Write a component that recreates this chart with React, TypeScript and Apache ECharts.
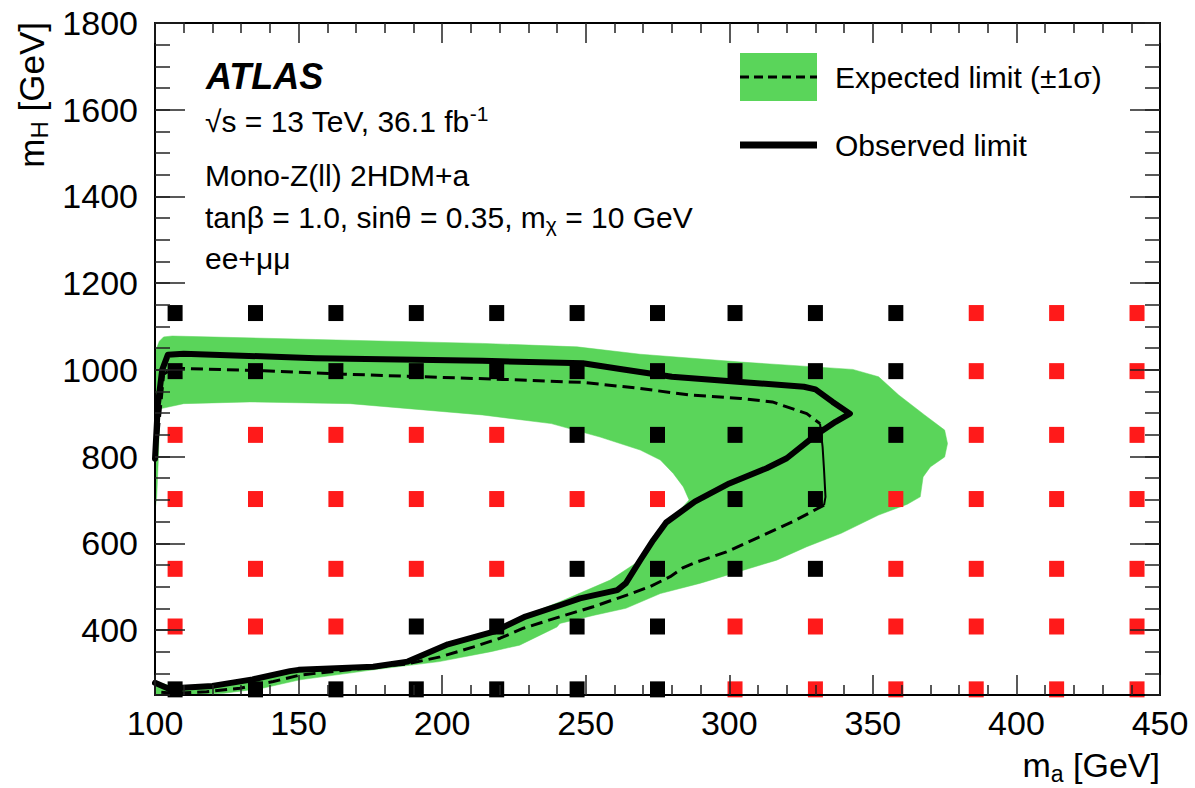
import React, { useEffect, useRef } from "react";
import * as echarts from "echarts";

const FONT = '"Liberation Sans", Arial, Helvetica, sans-serif';
const GREEN = "#5ad55a";
const RED = "#ff1a1a";

// Grid of signal points
const MA_POINTS = [107, 135, 163, 191, 219, 247, 275, 302, 330, 358, 386, 414, 442];
const MH_POINTS = [263, 408, 541, 702, 850, 997, 1131];
// 1 = excluded (black), 0 = not excluded (red); one row per MH_POINTS entry
const EXCLUDED_ROWS = [
  [1, 1, 1, 1, 1, 1, 1, 0, 0, 0, 0, 0, 0],
  [0, 0, 0, 1, 1, 1, 1, 0, 0, 0, 0, 0, 0],
  [0, 0, 0, 0, 0, 1, 1, 1, 1, 0, 0, 0, 0],
  [0, 0, 0, 0, 0, 0, 0, 1, 1, 0, 0, 0, 0],
  [0, 0, 0, 0, 0, 1, 1, 1, 1, 1, 0, 0, 0],
  [1, 1, 1, 1, 1, 1, 1, 1, 1, 1, 0, 0, 0],
  [1, 1, 1, 1, 1, 1, 1, 1, 1, 1, 0, 0, 0],
];

// Observed limit contour
const OBS_X = [100, 101, 102.5, 104.5, 110, 156, 214, 249, 262, 280, 304, 326, 330, 336, 342, 337, 330, 320, 313, 300, 288, 278, 273.5, 269, 264, 261, 248, 241, 229, 218, 202, 188, 176, 150, 147, 134, 120, 108, 105, 100];
const OBS_Y = [795, 920, 1000, 1035, 1037, 1027, 1021, 1015, 1002, 984, 972, 961, 955, 926, 899, 880, 849, 796, 773, 738, 696, 648, 607, 561, 508, 492, 473, 457, 431, 396, 367, 327, 315, 308, 305, 286, 271, 266, 264, 278];

// Expected limit contour (upper dashed part, near-vertical solid part, lower dashed part)
const EXP_UP_X = [101, 103, 106, 110, 138, 166, 193, 221, 249, 269, 286, 304, 315, 327, 331.6];
const EXP_UP_Y = [850, 990, 1003, 1003, 998, 990, 984, 978, 971, 957, 942, 934, 926, 899, 876];
const EXP_MID_X = [331.6, 332.5, 333, 333.5, 333];
const EXP_MID_Y = [876, 822, 769, 707, 688];
const EXP_LOW_X = [333, 322.5, 310, 299, 287.5, 284, 279.4, 272.4, 264.3, 252.6, 241, 228.3, 220.2, 211, 199.3, 187.7, 164.4, 150.5, 141.2, 129.6, 118, 106.4, 100.5];
const EXP_LOW_Y = [688, 651, 613, 580, 554, 544, 523, 500, 480.5, 453.5, 430.5, 404, 381, 361, 338, 321.5, 306, 296, 281, 265.5, 257.6, 254, 257.6];

// +-1 sigma band outline
const BAND_X = [100, 100, 101.5, 103, 106, 156, 214, 247, 269, 304, 343, 352, 359, 368, 375, 376, 375, 370, 367.5, 366.5, 362, 352, 339, 327, 316.5, 313, 301.5, 290, 276, 264, 253, 241, 240, 227, 217, 199, 176, 150.5, 137, 124, 110, 100, 100, 106, 120, 134, 148, 176, 188, 202, 218, 229, 241, 258.5, 269, 274, 279, 286, 284, 280.5, 276, 269, 255, 238, 214, 168, 133, 110, 101.7, 101.2, 100.6];
const BAND_Y = [676, 1040, 1066, 1076, 1078, 1070, 1061, 1053, 1036, 1018, 1001, 984, 942, 896, 861, 830, 799, 776, 753, 707, 690, 665, 623, 592, 561, 554, 531, 508, 484, 450, 434, 415, 407, 365, 350, 327, 308, 285, 265, 254, 250, 250, 282, 270, 273, 289, 310, 318, 330, 370, 399, 434, 465, 515, 561, 607, 648, 700, 730, 761, 792, 815, 845, 876, 896, 922, 926, 922, 910, 800, 707];

const Y_MAJOR_TICKS = [400, 600, 800, 1000, 1200, 1400, 1600, 1800];

const pairs = (xs: number[], ys: number[]) => xs.map((x, i) => [x, ys[i]]);

function buildOption() {
  const black: number[][] = [];
  const red: number[][] = [];
  MH_POINTS.forEach((mh, r) => {
    MA_POINTS.forEach((ma, c) => {
      (EXCLUDED_ROWS[r][c] ? black : red).push([ma, mh]);
    });
  });

  const tickStyle = { color: "#222", width: 1.5 };
  const axisLineStyle = { color: "#000", width: 2 };
  const labelStyle = {
    color: "#000",
    fontSize: 34,
    fontFamily: FONT,
    formatter: (v: number) => String(v),
  };

  const xBase = {
    type: "value",
    min: 100,
    max: 450,
    interval: 50,
    z: 10,
    silent: true,
    splitLine: { show: false },
    axisLine: { show: true, onZero: false, lineStyle: axisLineStyle },
    axisTick: { show: true, inside: true, length: 20, lineStyle: tickStyle },
    minorTick: { show: true, splitNumber: 5, length: 10, lineStyle: tickStyle },
  };
  const yMajor = {
    type: "value",
    min: 250,
    max: 1800,
    interval: 50,
    z: 10,
    silent: true,
    splitLine: { show: false },
    axisLine: { show: true, onZero: false, lineStyle: axisLineStyle },
    axisTick: { show: true, inside: true, length: 30, lineStyle: tickStyle, customValues: Y_MAJOR_TICKS },
  };
  const yMinor = {
    type: "value",
    min: 250,
    max: 1800,
    interval: 50,
    z: 10,
    silent: true,
    splitLine: { show: false },
    axisLine: { show: false },
    axisTick: { show: true, inside: true, length: 15, lineStyle: tickStyle },
    axisLabel: { show: false },
  };

  const textBase = {
    fill: "#000",
    fontFamily: FONT,
    fontSize: 30,
    lineHeight: 36,
    textAlign: "left",
    align: "left",
    textVerticalAlign: "middle",
    verticalAlign: "middle",
  };
  const sub = { fontSize: 21, lineHeight: 14, verticalAlign: "bottom", fontFamily: FONT, fill: "#000" };
  const sup = { fontSize: 21, lineHeight: 14, verticalAlign: "top", fontFamily: FONT, fill: "#000" };

  return {
    animation: false,
    backgroundColor: "#fff",
    grid: { left: 155, right: 35, top: 23, bottom: 93, containLabel: false, outerBoundsMode: "none" },
    xAxis: [
      { ...xBase, position: "bottom", axisLabel: { show: true, margin: 11, ...labelStyle } },
      { ...xBase, position: "top", axisLabel: { show: false } },
    ],
    yAxis: [
      { ...yMajor, position: "left", axisLabel: { show: true, margin: 17, customValues: Y_MAJOR_TICKS, ...labelStyle } },
      { ...yMinor, position: "left" },
      { ...yMajor, position: "right", axisLabel: { show: false } },
      { ...yMinor, position: "right" },
    ],
    series: [
      {
        type: "custom",
        name: "band",
        coordinateSystem: "cartesian2d",
        xAxisIndex: 0,
        yAxisIndex: 0,
        z: 1,
        silent: true,
        clip: true,
        data: pairs(BAND_X, BAND_Y),
        encode: { x: 0, y: 1 },
        renderItem: (params: any, api: any) => {
          if (params.dataIndex !== 0) return null;
          const pts = BAND_X.map((x, i) => api.coord([x, BAND_Y[i]]));
          return { type: "polygon", shape: { points: pts }, style: { fill: GREEN, stroke: GREEN, lineWidth: 0.5 } };
        },
      },
      {
        type: "line",
        name: "expUp",
        data: pairs(EXP_UP_X, EXP_UP_Y),
        showSymbol: false,
        symbol: "none",
        silent: true,
        z: 3,
        lineStyle: { color: "#000", width: 3, type: [12, 6] },
      },
      {
        type: "line",
        name: "expMid",
        data: pairs(EXP_MID_X, EXP_MID_Y),
        showSymbol: false,
        symbol: "none",
        silent: true,
        z: 3,
        lineStyle: { color: "#000", width: 2 },
      },
      {
        type: "line",
        name: "expLow",
        data: pairs(EXP_LOW_X, EXP_LOW_Y),
        showSymbol: false,
        symbol: "none",
        silent: true,
        z: 3,
        lineStyle: { color: "#000", width: 3, type: [12, 6] },
      },
      {
        type: "line",
        name: "obs",
        data: pairs(OBS_X, OBS_Y),
        showSymbol: false,
        symbol: "none",
        silent: true,
        z: 4,
        lineStyle: { color: "#000", width: 6, join: "round", cap: "round" },
      },
      {
        type: "scatter",
        name: "excluded",
        data: black,
        symbol: "rect",
        symbolSize: [15, 16],
        silent: true,
        z: 5,
        itemStyle: { color: "#000", opacity: 1 },
      },
      {
        type: "scatter",
        name: "allowed",
        data: red,
        symbol: "rect",
        symbolSize: [15, 16],
        silent: true,
        z: 5,
        itemStyle: { color: RED, opacity: 1 },
      },
    ],
    graphic: [
      { type: "rect", z: 20, shape: { x: 740, y: 53, width: 77, height: 48 }, style: { fill: GREEN } },
      { type: "line", z: 21, shape: { x1: 740, y1: 77, x2: 817, y2: 77 }, style: { stroke: "#000", lineWidth: 3, lineDash: [9, 5] } },
      { type: "line", z: 21, shape: { x1: 740, y1: 145, x2: 817, y2: 145 }, style: { stroke: "#000", lineWidth: 7 } },
      { type: "text", z: 21, x: 835, y: 77, style: { ...textBase, text: "Expected limit (±1σ)" } },
      { type: "text", z: 21, x: 835, y: 145, style: { ...textBase, text: "Observed limit" } },
      {
        type: "text",
        z: 21,
        x: 206,
        y: 76,
        style: { ...textBase, text: "ATLAS", fontSize: 36, lineHeight: 40, fontWeight: "bold", fontStyle: "italic" },
      },
      {
        type: "text",
        z: 21,
        x: 205,
        y: 121,
        style: { ...textBase, text: "√s = 13 TeV, 36.1 fb{sup|-1}", rich: { sup } },
      },
      { type: "text", z: 21, x: 205, y: 175, style: { ...textBase, text: "Mono-Z(ll) 2HDM+a" } },
      {
        type: "text",
        z: 21,
        x: 205,
        y: 217,
        style: { ...textBase, text: "tanβ = 1.0, sinθ = 0.35, m{sub|χ} = 10 GeV", rich: { sub } },
      },
      { type: "text", z: 21, x: 205, y: 258, style: { ...textBase, text: "ee+μμ" } },
      {
        type: "text",
        z: 21,
        x: 1160,
        y: 765,
        style: {
          ...textBase,
          fontSize: 34,
          lineHeight: 40,
          textAlign: "right",
          align: "right",
          text: "m{s|a} [GeV]",
          rich: { s: { ...sub, fontSize: 23, lineHeight: 16 } },
        },
      },
      {
        type: "text",
        z: 21,
        x: 31,
        y: 22,
        rotation: Math.PI / 2,
        style: {
          ...textBase,
          fontSize: 35,
          lineHeight: 40,
          textAlign: "right",
          align: "right",
          text: "m{s|H} [GeV]",
          rich: { s: { ...sub, fontSize: 24, lineHeight: 16 } },
        },
      },
    ],
  };
}

export default function App() {
  const ref = useRef<HTMLDivElement>(null);
  useEffect(() => {
    document.body.style.margin = "0";
    const chart = echarts.init(ref.current as HTMLDivElement, null, { renderer: "svg" });
    chart.setOption(buildOption() as any);
    return () => chart.dispose();
  }, []);
  return <div ref={ref} style={{ width: 1195, height: 788 }} />;
}
